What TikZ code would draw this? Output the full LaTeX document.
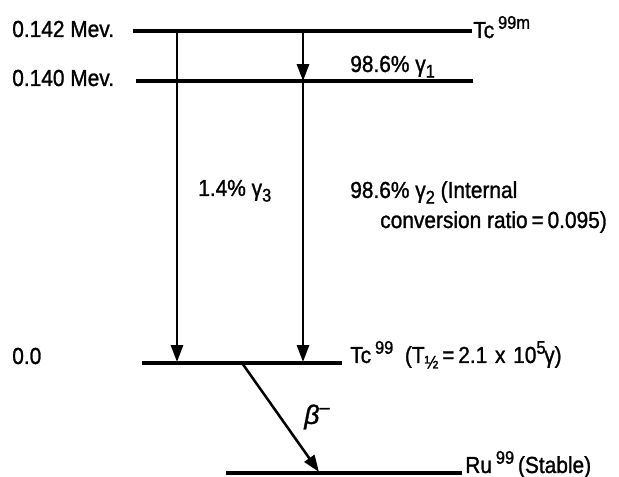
\documentclass[tikz,border=0pt]{standalone}
\usepackage{fontspec}
\newfontface\labfam[FakeStretch=0.9,FakeBold=1.2]{Liberation Sans}
\newfontface\labita[FakeBold=1.2]{Liberation Sans Italic}
\usepackage{tikz}
\usetikzlibrary{arrows.meta,positioning}

\newcommand{\labfont}{\labfam\fontsize{16.5}{18}\selectfont}
\newcommand{\isosup}[1]{\raisebox{0.75ex}{\fontsize{13}{13}\selectfont #1}}
\newcommand{\isosub}[1]{\raisebox{-0.45ex}{\fontsize{13}{13}\selectfont #1}}

\begin{document}
\begin{tikzpicture}[
  x=0.025cm, y=-0.025cm,
  level/.style={line width=2.4pt},
  gam/.style={-{Stealth[length=4.2mm,width=3mm,inset=0pt]}, line width=1.8pt},
  lab/.style={font=\labfont, inner sep=0pt, anchor=base west}
]
  \useasboundingbox (0,0) rectangle (619,477);

  % level ends
  \coordinate (top-l) at (133,31);   \coordinate (top-r) at (472,31);
  \coordinate (mid-l) at (136,81);   \coordinate (mid-r) at (473,81);
  \coordinate (gnd-l) at (142,363);  \coordinate (gnd-r) at (342,363);
  \coordinate (ru-l)  at (226,473);  \coordinate (ru-r)  at (462,473);

  % arrow ends on the levels
  \coordinate (g3-s) at (177,31);  \coordinate (g3-e) at (177,362);
  \coordinate (g1-s) at (303,31);  \coordinate (g1-e) at (303,81);
  \coordinate (g2-e) at (303,362);
  \coordinate (b-s)  at (242,363); \coordinate (b-e)  at (319,472);

  \draw[level] (top-l) -- (top-r);
  \draw[level] (mid-l) -- (mid-r);
  \draw[level] (gnd-l) -- (gnd-r);
  \draw[level] (ru-l) -- (ru-r);

  \node[lab] (e142) at (12,37) {0.142 Mev.};
  \node[lab] (e140) at (12,86) {0.140 Mev.};
  \node[lab] (e0)   at (12,364) {0.0};

  \node[lab] (tcm) at (473,38) {Tc\,\isosup{99m}};
  \node[lab] (tc)  at (350,363) {Tc\,\isosup{99}\ \ (T\isosub{½}\,=\,2.1\,\,x\,\,10\isosup{5}\kern-1ptγ)};
  \node[lab] (ru)  at (465,473) {Ru\,\isosup{99}\,(Stable)};

  \draw[gam] (g3-s) -- (g3-e);
  \draw[gam] (g1-s) -- (g1-e);
  \draw[gam] (g1-e) -- (g2-e);
  \draw[gam] (b-s) -- (b-e);

  \node[lab] (g1)  at (350,72)  {98.6\% γ\isosub{1}};
  \node[lab] (g3)  at (198,196) {1.4\% γ\isosub{3}};
  \node[lab] (g2)  at (350,198) {98.6\% γ\isosub{2} (Internal};
  \node[lab] (g2b) at (380,228) {conversion ratio\,=\,0.095)};
  \node[lab, anchor=center, font=\labita\fontsize{19}{20}\selectfont] (beta) at (317,417) {β\isosup{–}};
\end{tikzpicture}
\end{document}
